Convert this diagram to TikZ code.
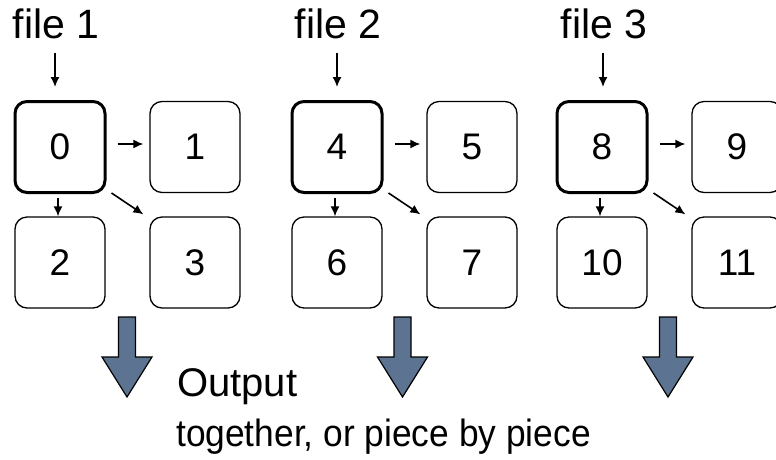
\documentclass[tikz,border=0pt]{standalone}
\usepackage{fontspec}
\setmainfont{Liberation Sans}
\newfontfamily\condsans[FakeStretch=0.93]{Liberation Sans}
\usetikzlibrary{arrows.meta}
\definecolor{slate}{HTML}{5C7391}
\tikzset{
  cell/.style={draw, rounded corners=12pt, minimum width=90pt, minimum height=91pt,
    line width=1.3pt, inner sep=0pt, font=\fontsize{37}{40}\selectfont},
  head/.style={cell, line width=3pt},
  arr/.style={-{Latex[length=10pt,width=9pt]}, line width=1.6pt},
  flabel/.style={inner sep=0pt, anchor=base, font=\fontsize{41}{44}\selectfont},
  txt/.style={inner sep=0pt, anchor=base west},
  bigarrow/.style={fill=slate, draw=black, line width=1.2pt, line join=miter}
}
\begin{document}
\begin{tikzpicture}[x=1pt, y=-1pt]
  \useasboundingbox (0,0) rectangle (776,459);
  % three groups of four cells each
  \foreach \g/\gx/\fx/\a/\b/\c/\d in {1/15/56/0/1/2/3, 2/292/338/4/5/6/7, 3/557/604/8/9/10/11} {
    \node[head] (b\a) at (\gx+45,147) {\a};
    \node[cell] (b\b) at (\gx+180,147) {\b};
    \node[cell] (b\c) at (\gx+45,262.5) {\c};
    \node[cell] (b\d) at (\gx+180,262.5) {\d};
    \node[flabel] (f\g) at (\fx,38) {file \g};
    \draw[arr, shorten <=14pt, shorten >=13pt] ([xshift=-1pt]f\g.south) -- ([xshift=-1pt]f\g.south |- b\a.north);
    \draw[arr, shorten <=11pt, shorten >=6pt] ([yshift=3pt]b\a.east) -- ([yshift=3pt]b\b.west);
    \draw[arr, shorten <=4pt] ([xshift=-2pt]b\a.south) -- ([xshift=-2pt]b\c.north);
    \draw[arr] ([shift={(5,-1)}]b\a.south east) -- ([shift={(-6,-2)}]b\d.north west);
  }
  % output arrows below each group
  \foreach \k/\ox in {1/127, 2/402.5, 3/668} {
    \coordinate (o\k) at (\ox,317);
    \draw[bigarrow] ([shift={(-8.5,0)}]o\k) -- ([shift={(8.5,0)}]o\k)
      -- ([shift={(8.5,40)}]o\k) -- ([shift={(25,40)}]o\k)
      -- ([shift={(0,80)}]o\k) -- ([shift={(-25,40)}]o\k)
      -- ([shift={(-8.5,40)}]o\k) -- cycle;
  }
  \node[txt, font=\fontsize{40}{44}\selectfont] (out) at (177,396) {Output};
  \node[txt, font=\condsans\fontsize{38}{42}\selectfont] (how) at (176,446) {together, or piece by piece};
\end{tikzpicture}
\end{document}
